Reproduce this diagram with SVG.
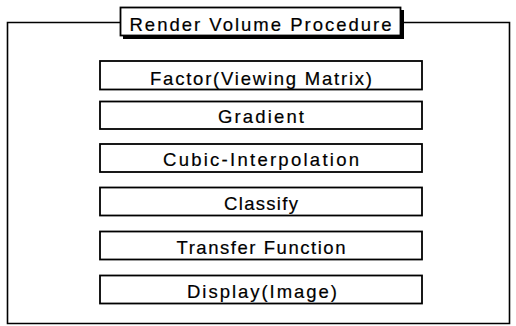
<svg xmlns="http://www.w3.org/2000/svg" width="516" height="326" viewBox="0 0 516 326">
<style>
.box{fill:#fff;stroke:#000;stroke-width:1.8}
.frame{fill:none;stroke:#000;stroke-width:1.6}
.t{font-family:"Liberation Sans",Arial,sans-serif;font-size:18.5px;fill:#000;stroke:#000;stroke-width:0.2;text-anchor:middle}
</style>
<rect width="516" height="326" fill="#fff"/>
<g id="frame">
<polyline class="frame" points="120,22.5 7.5,22.5 7.5,323.5 509.5,323.5 509.5,22.5 404,22.5"/>
</g>
<g id="title">
<rect x="123" y="10" width="281" height="29" fill="#000"/>
<rect class="box" x="120.5" y="7.5" width="280" height="28"/>
<text class="t" x="260.5" y="30.5" textLength="262" lengthAdjust="spacing">Render Volume Procedure</text>
</g>
<g id="connectors"></g>
<g id="factor">
<rect class="box" x="100" y="61" width="322" height="28.5"/>
<text class="t" x="261" y="84.5" textLength="222" lengthAdjust="spacing">Factor(Viewing Matrix)</text>
</g>
<g id="gradient">
<rect class="box" x="100" y="101.5" width="322" height="27.5"/>
<text class="t" x="261" y="123" textLength="86" lengthAdjust="spacing">Gradient</text>
</g>
<g id="cubic">
<rect class="box" x="100" y="144" width="322" height="28"/>
<text class="t" x="261" y="166" textLength="196" lengthAdjust="spacing">Cubic-Interpolation</text>
</g>
<g id="classify">
<rect class="box" x="100" y="187.5" width="322" height="28"/>
<text class="t" x="261" y="209.5" textLength="74" lengthAdjust="spacing">Classify</text>
</g>
<g id="transfer">
<rect class="box" x="100" y="231.5" width="322" height="28"/>
<text class="t" x="261" y="253.5" textLength="169" lengthAdjust="spacing">Transfer Function</text>
</g>
<g id="display">
<rect class="box" x="100" y="275.5" width="322" height="28"/>
<text class="t" x="262" y="297.5" textLength="150" lengthAdjust="spacing">Display(Image)</text>
</g>
</svg>
